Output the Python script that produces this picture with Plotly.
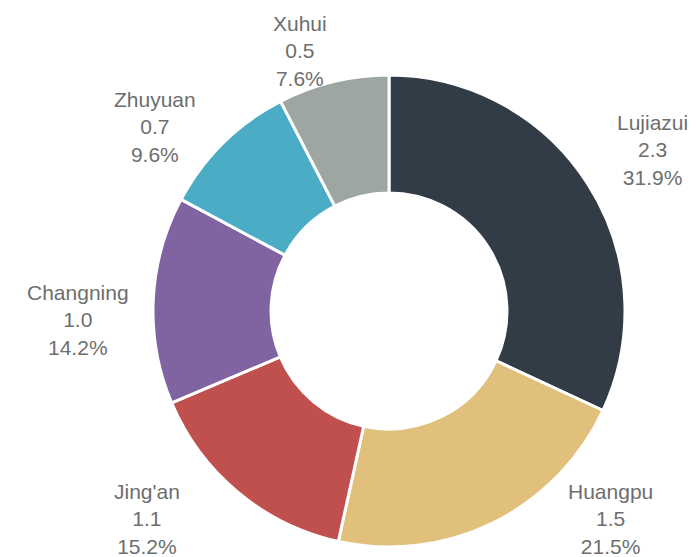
import plotly.graph_objects as go

# ---- data ----
districts = ["Lujiazui", "Huangpu", "Jing'an", "Changning", "Zhuyuan", "Xuhui"]
values = [2.27, 1.53, 1.08, 1.01, 0.68, 0.54]

# ---- style / layout ----
colors = ["#323C47", "#E0C07B", "#C0504D", "#8064A2", "#4BACC6", "#9DA6A0"]
W, H = 698, 557
# label centre positions in pixels (layout only)
label_px = [(652, 150), (610, 519), (147, 519), (78, 320), (155, 127), (300, 51)]

total = sum(values)
fig = go.Figure()
cx, cy, R = 389, 311, 236
fig.add_trace(go.Pie(
    labels=districts,
    values=values,
    sort=False,
    direction="clockwise",
    rotation=0,
    hole=0.5,
    marker=dict(colors=colors, line=dict(color="white", width=3)),
    textinfo="none",
    hoverinfo="label+value+percent",
    showlegend=False,
    domain=dict(x=[(cx - R) / W, (cx + R) / W],
                y=[1 - (cy + R) / H, 1 - (cy - R) / H]),
))

for name, v, (px, py) in zip(districts, values, label_px):
    pct = v / total * 100
    fig.add_annotation(
        x=px / W, y=1 - py / H, xref="paper", yref="paper",
        text=f"{name}<br>{v:.1f}<br>{pct:.1f}%",
        showarrow=False, align="center",
        xanchor="center", yanchor="middle",
        font=dict(family="Liberation Sans, Arial, sans-serif", size=21, color="#6e6e6e"),
    )

fig.update_layout(
    width=W, height=H,
    margin=dict(l=0, r=0, t=0, b=0),
    paper_bgcolor="white", plot_bgcolor="white",
)

fig.write_html(
    "out.html",
    config={"displayModeBar": False},
    post_script="document.body.style.margin='0';document.body.style.overflow='hidden';",
)
